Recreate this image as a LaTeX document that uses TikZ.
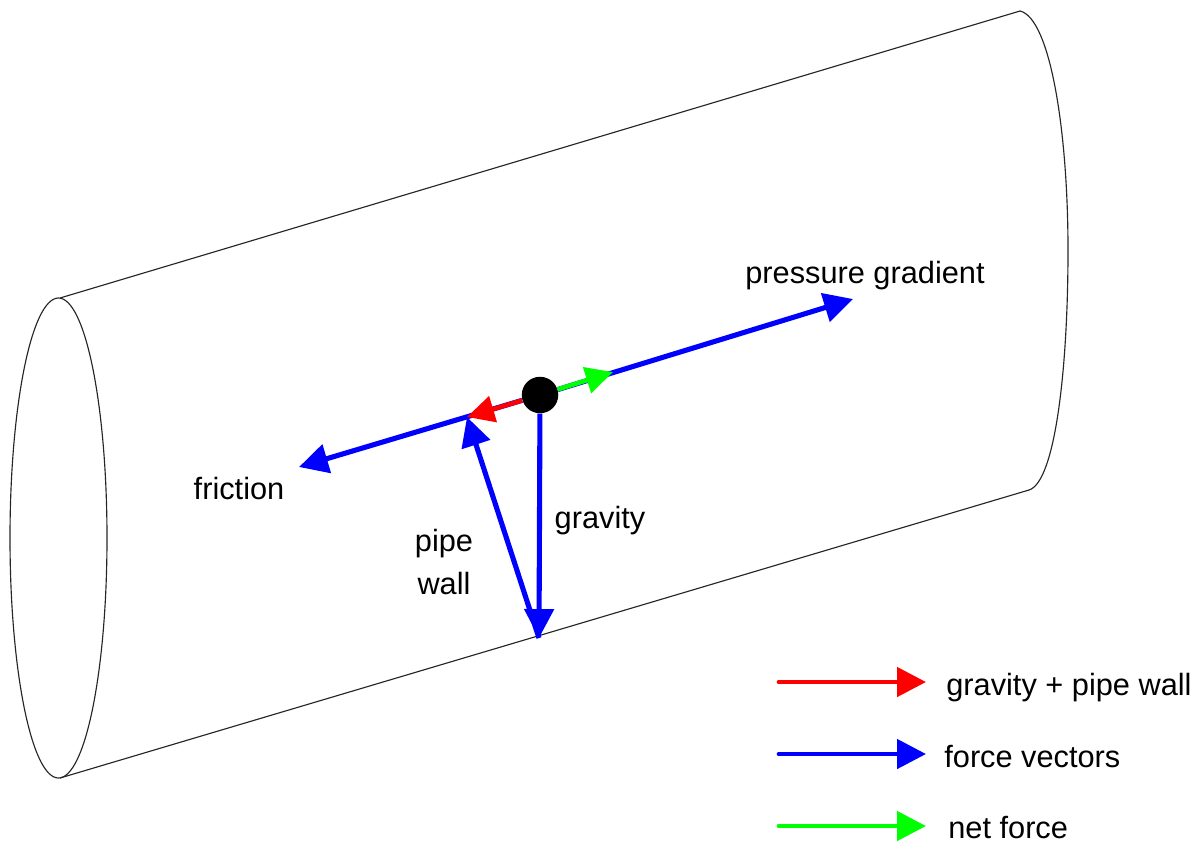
\documentclass[tikz,border=0pt]{standalone}
\usepackage{fontspec}
\setmainfont{Liberation Sans}
\usetikzlibrary{positioning, arrows.meta}
\definecolor{forceblue}{HTML}{0000FF}
\definecolor{sumred}{HTML}{FF0000}
\definecolor{netgreen}{HTML}{00FF00}

\begin{document}
\begin{tikzpicture}[
    x=0.02cm, y=-0.02cm,
    vec/.style={line width=2.9pt, #1, -{Triangle[length=16.5pt, width=16.5pt]}},
    shortvec/.style={line width=2.6pt, #1, -{Triangle[length=15.5pt, width=15pt]}},
    keyvec/.style={line width=2.7pt, #1, line cap=round, -{Triangle[length=16.5pt, width=16.5pt]}},
    pipeline/.style={draw=black!85, line width=0.65pt},
    caption/.style={font=\fontsize{17.5}{21.5}\selectfont, text=black, inner sep=0pt, align=center}
]
\useasboundingbox (0,0) rectangle (1203,846);

%% ---- Pipe ----
\coordinate (left_top) at (60,298);
\coordinate (left_bot) at (60,778);
\coordinate (right_top) at (1020,11);
\coordinate (right_bot) at (1029,490);

\draw[pipeline] (58.5,538) ellipse [x radius=48.5, y radius=240];
\draw[pipeline] (left_top) -- (right_top);
\draw[pipeline] (left_bot) -- (right_bot);
\draw[pipeline] (right_top) .. controls (1050,18) and (1068,130) .. (1068,250)
    .. controls (1068,370) and (1055,482) .. (right_bot);

%% ---- Forces ----
\node[circle, fill=black, inner sep=0pt, minimum size=36.5*0.02cm] (ball) at (540,395) {};

\coordinate (press_tip) at (853,299);
\coordinate (fric_tip) at (299,467);
\coordinate (grav_tip) at (539,638);
\coordinate (wall_tip) at (467,417);
\coordinate (net_tip) at (613,372);

\draw[vec=forceblue] (ball) -- (press_tip);
\draw[vec=forceblue] (ball) -- (fric_tip);
\draw[vec=forceblue] (ball) -- (grav_tip);
\draw[vec=forceblue] (grav_tip) -- (wall_tip);
\draw[shortvec=sumred] (ball) -- (wall_tip);
\draw[shortvec=netgreen] (ball) -- (net_tip);

% Labels
\node[caption] (press_lab) at (865,276) {pressure gradient};
\node[caption] (fric_lab) at (239,488) {friction};
\node[caption] (grav_lab) at (600,521) {gravity};
\node[caption] (wall_lab) at (444,562) {pipe\\[3pt]wall};

%% ---- Legend ----
\coordinate (key_a) at (779,682);
\coordinate (key_b) at (779,754);
\coordinate (key_c) at (779,826);
\coordinate (key_a_tip) at (926,682);
\coordinate (key_b_tip) at (926,754);
\coordinate (key_c_tip) at (926,826);

\draw[keyvec=sumred] (key_a) -- (key_a_tip);
\draw[keyvec=forceblue] (key_b) -- (key_b_tip);
\draw[keyvec=netgreen] (key_c) -- (key_c_tip);

\node[caption, right=0.4cm of key_a_tip, yshift=-5.5*0.02cm] (key_a_lab) {gravity + pipe wall};
\node[caption, right=0.36cm of key_b_tip, yshift=-3*0.02cm] (key_b_lab) {force vectors};
\node[caption, right=0.44cm of key_c_tip, yshift=-2*0.02cm] (key_c_lab) {net force};

\end{tikzpicture}
\end{document}
